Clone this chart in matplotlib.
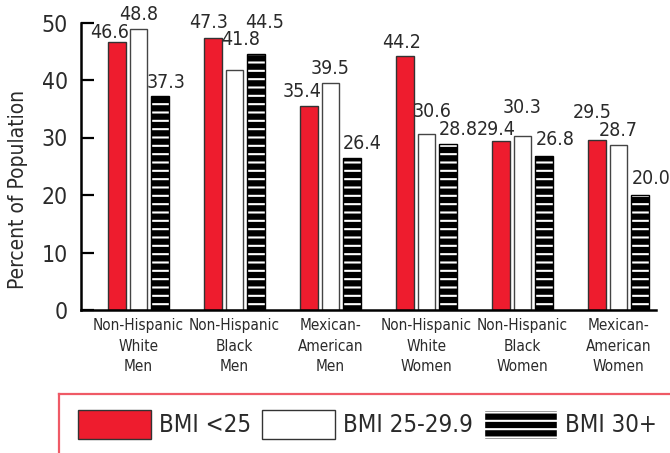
import matplotlib
matplotlib.use("Agg")
from matplotlib import pyplot as plt
from matplotlib.patches import Patch
import numpy as np

groups = ["Non-Hispanic\nWhite\nMen", "Non-Hispanic\nBlack\nMen", "Mexican-\nAmerican\nMen",
          "Non-Hispanic\nWhite\nWomen", "Non-Hispanic\nBlack\nWomen", "Mexican-\nAmerican\nWomen"]
bmi_lt25 = [46.6, 47.3, 35.4, 44.2, 29.4, 29.5]
bmi_25_30 = [48.8, 41.8, 39.5, 30.6, 30.3, 28.7]
bmi_30p = [37.3, 44.5, 26.4, 28.8, 26.8, 20.0]
series_names = ["BMI <25", "BMI 25-29.9", "BMI 30+"]

# label nudges in pixels (dx, gap above bar top), as placed in the original
nudge_red = [(-7, 4), (-4, 10), (-7, 9), (-3, 8), (-5, 6), (-5, 22)]
nudge_white = [(0, 9), (6, 25), (0, 9), (6, 17), (0, 23), (0, 9)]
nudge_black = [(6, 8), (8, 26), (10, 9), (10, 9), (11, 11), (11, 11)]

plt.rcParams['font.family'] = ['DejaVu Sans']
plt.rcParams['font.stretch'] = 'condensed'
plt.rcParams['hatch.linewidth'] = 1.5

red = "#ee1c2e"
txt = "#2a2a2a"
fig = plt.figure(figsize=(6.7, 4.53), dpi=100)
ax = fig.add_axes([80.5 / 670, 1 - 310 / 453, 575.5 / 670, 287.5 / 453])

x = np.arange(len(groups))
w = 0.182
step = 0.226

b1 = ax.bar(x - step, bmi_lt25, w, color=red, edgecolor="#333333", linewidth=1.0)
b2 = ax.bar(x, bmi_25_30, w, color="white", edgecolor="#444444", linewidth=1.0)
b3 = ax.bar(x + step, bmi_30p, w, color="black", edgecolor="white", hatch="--", linewidth=0)
ax.bar(x + step, bmi_30p, w, fill=False, edgecolor="black", linewidth=1.0)

for bars, vals, nudges in [(b1, bmi_lt25, nudge_red), (b2, bmi_25_30, nudge_white),
                           (b3, bmi_30p, nudge_black)]:
    for b, v, (dx, dy) in zip(bars, vals, nudges):
        ax.annotate("%.1f" % v, (b.get_x() + b.get_width() / 2, v),
                    xytext=(dx, dy), textcoords="offset pixels",
                    ha="center", va="baseline", fontsize=14, color=txt,
                    annotation_clip=False)

ax.set_ylim(0, 50)
ax.set_xlim(-0.604, -0.604 + 575.5 / 96)
ax.set_yticks([0, 10, 20, 30, 40, 50])
ax.tick_params(axis="y", direction="in", length=9.5, width=1.6, labelsize=16.5,
               pad=9, labelcolor=txt)
ax.set_xticks(x)
ax.set_xticklabels(groups, fontsize=11, linespacing=1.45, color=txt)
ax.tick_params(axis="x", length=0, pad=6)
for s in ["top", "right"]:
    ax.spines[s].set_visible(False)
ax.spines["left"].set_linewidth(1.8)
ax.spines["bottom"].set_linewidth(1.8)
ax.set_ylabel("Percent of Population", fontsize=15, color=txt)
ax.yaxis.set_label_coords(-0.091, 0.42)

# legend frame lines
fig.add_artist(plt.Line2D([59 / 670, 1.0], [1 - 394 / 453, 1 - 394 / 453], color="#ef5a66", lw=1.6))
fig.add_artist(plt.Line2D([59 / 670, 59 / 670], [0, 1 - 394 / 453], color="#ef5a66", lw=1.6))

handles = [Patch(facecolor=red, edgecolor="#333333"),
           Patch(facecolor="white", edgecolor="#333333"),
           Patch(facecolor="black", edgecolor="white", hatch="--")]
fig.legend(handles, series_names, loc="center left", bbox_to_anchor=(78 / 670, 1 - 424.5 / 453),
           ncol=3, frameon=False, fontsize=17.3, handlelength=3.04, handleheight=1.45,
           handletextpad=0.33, columnspacing=0.46, borderpad=0, borderaxespad=0,
           labelcolor=txt)

fig.savefig("out.png", dpi=100)
